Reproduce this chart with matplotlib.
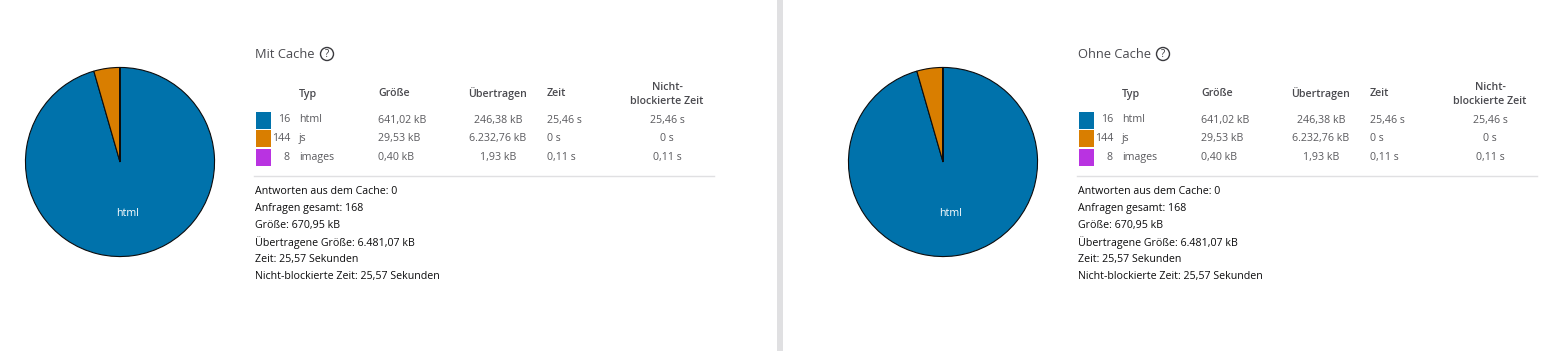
import matplotlib
matplotlib.use("Agg")
import matplotlib.pyplot as plt
from matplotlib.patches import Rectangle, Circle

plt.rcParams['font.family'] = ['Open Sans', 'DejaVu Sans']

# data
panel_titles = ['Mit Cache', 'Ohne Cache']
types = ['html', 'js', 'images']
counts = [16, 144, 8]
size_kb = [641.02, 29.53, 0.40]
transferred_kb = [246.38, 6232.76, 1.93]
time_s = [25.46, 0, 0.11]
nonblocking_s = [25.46, 0, 0.11]
type_colors = ['#0072ab', '#d97e00', '#b933e1']

cached_responses = 0
total_requests = 168
total_size_kb = 670.95
total_transferred_kb = 6481.07
total_time_s = 25.57
total_nonblocking_s = 25.57


def de(x):
    s = f"{x:,.2f}"
    return s.replace(",", "X").replace(".", ",").replace("X", ".")


def de_s(x):
    return "0 s" if x == 0 else de(x) + " s"


W, H = 1541, 351
fig = plt.figure(figsize=(W / 100, H / 100), dpi=100)
ax = fig.add_axes([0, 0, 1, 1])
ax.set_xlim(0, W)
ax.set_ylim(H, 0)
ax.axis('off')

# divider between the two panels
ax.add_patch(Rectangle((777, 0), 6, H, color='#e0e0e2', lw=0))

title_c = '#4a4a4f'
head_c = '#4a4a4f'
row_c = '#5a5a5e'
sum_c = '#0c0c0d'
fs = 7.7
icon_x = [327, 1163]

for p, title in enumerate(panel_titles):
    dx = p * 823

    # pie
    cx, cy, r = 120 + dx, 162, 95.5
    pax = fig.add_axes([(cx - r) / W, (H - cy - r) / H, 2 * r / W, 2 * r / H])
    pax.pie(size_kb, colors=type_colors, startangle=90, counterclock=False,
            labels=['html', '', ''], labeldistance=0.55,
            textprops=dict(color='white', fontsize=fs, ha='center'),
            wedgeprops=dict(edgecolor='#0c0c0d', linewidth=0.8))
    pax.set_xlim(-1.01, 1.01)
    pax.set_ylim(-1.01, 1.01)
    pax.set_aspect('auto')

    # title + help icon
    ax.text(255 + dx, 54, title, fontsize=9.3, color=title_c, va='center')
    ax.add_patch(Circle((icon_x[p], 54), 6.5, fill=False, ec='#3a3a3e', lw=1))
    ax.text(icon_x[p], 54.5, '?', fontsize=7, color='#3a3a3e', ha='center', va='center')

    # header
    hkw = dict(fontsize=fs, color=head_c, va='center', fontweight='semibold')
    ax.text(299 + dx, 94, 'Typ', **hkw)
    ax.text(378 + dx, 94, 'Größe', **hkw)
    ax.text(498 + dx, 94, 'Übertragen', ha='center', **hkw)
    ax.text(547 + dx, 94, 'Zeit', **hkw)
    ax.text(667 + dx, 87, 'Nicht-', ha='center', **hkw)
    ax.text(667 + dx, 101, 'blockierte Zeit', ha='center', **hkw)

    # rows
    rkw = dict(fontsize=fs, color=row_c, va='center')
    for i, t in enumerate(types):
        y = 120 + i * 18.7
        ax.add_patch(Rectangle((256 + dx, y - 8.5), 15, 17, color=type_colors[i], lw=0))
        ax.text(290 + dx, y, str(counts[i]), ha='right', **rkw)
        ax.text(299 + dx, y, t, **rkw)
        ax.text(378 + dx, y, de(size_kb[i]) + ' kB', **rkw)
        ax.text(498 + dx, y, de(transferred_kb[i]) + ' kB', ha='center', **rkw)
        ax.text(547 + dx, y, de_s(time_s[i]), **rkw)
        ax.text(667 + dx, y, de_s(nonblocking_s[i]), ha='center', **rkw)

    ax.plot([254 + dx, 714 + dx], [176, 176], color='#e0e0e2', lw=1)

    # summary
    lines = [
        f"Antworten aus dem Cache: {cached_responses}",
        f"Anfragen gesamt: {total_requests}",
        f"Größe: {de(total_size_kb)} kB",
        f"Übertragene Größe: {de(total_transferred_kb)} kB",
        f"Zeit: {de(total_time_s)} Sekunden",
        f"Nicht-blockierte Zeit: {de(total_nonblocking_s)} Sekunden",
    ]
    for j, s in enumerate(lines):
        ax.text(255 + dx, 191 + j * 17.2, s, fontsize=fs, color=sum_c, va='center')

fig.savefig('out.png', dpi=100)
